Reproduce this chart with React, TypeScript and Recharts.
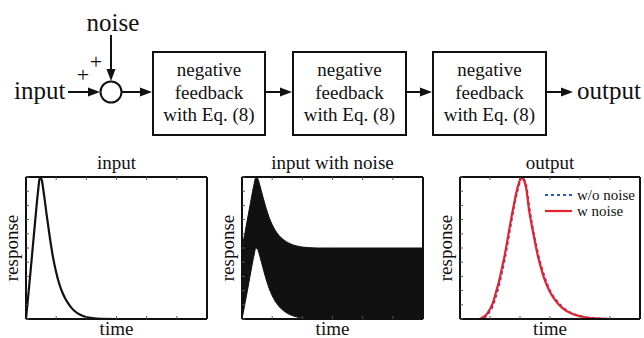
import { ComposedChart, Line, Area, XAxis, YAxis, Legend } from 'recharts';

const FONT = '"Liberation Serif", "DejaVu Serif", serif';

// input pulse and noisy input share one time grid
const timeSteps = [0, 1, 2, 3, 4, 4.6, 5.2, 6, 7, 8, 9, 10, 11, 12, 13, 14, 15, 16, 18, 20, 22, 25, 30, 40, 50, 60];
const inputResponse = [0, 0.22, 0.45, 0.68, 0.9, 1.0, 0.98, 0.87, 0.71, 0.56, 0.43, 0.33, 0.25, 0.19, 0.145, 0.11, 0.08, 0.058, 0.03, 0.014, 0.006, 0.001, 0, 0, 0, 0];
const noiseLower = [0, 0.11, 0.225, 0.34, 0.45, 0.5, 0.49, 0.435, 0.355, 0.28, 0.215, 0.165, 0.125, 0.095, 0.072, 0.055, 0.04, 0.03, 0.015, 0.007, 0.003, 0, 0, 0, 0, 0];
const noiseUpper = [0.5, 0.61, 0.725, 0.84, 0.95, 1.0, 0.99, 0.935, 0.855, 0.78, 0.715, 0.665, 0.625, 0.595, 0.572, 0.555, 0.54, 0.53, 0.515, 0.507, 0.503, 0.5, 0.5, 0.5, 0.5, 0.5];

// output of the cascade
const outputTime = [0, 5, 6.4, 7.5, 8.7, 10, 11, 12, 13, 14, 15, 16, 17, 18, 19, 20, 20.5, 21, 22, 23, 24, 25, 26, 27, 28, 29, 30, 32, 34, 36, 38, 40, 42, 45, 48, 52, 56, 60];
const outputWithoutNoise = [0, 0, 0, 0.005, 0.02, 0.055, 0.095, 0.16, 0.235, 0.33, 0.43, 0.55, 0.67, 0.79, 0.89, 0.97, 1.0, 0.99, 0.95, 0.8, 0.67, 0.56, 0.46, 0.38, 0.31, 0.25, 0.2, 0.135, 0.088, 0.055, 0.035, 0.022, 0.012, 0.005, 0.001, 0, 0, 0];
const outputWithNoise = [0, 0, 0, 0.01, 0.028, 0.07, 0.115, 0.19, 0.265, 0.36, 0.46, 0.58, 0.7, 0.81, 0.91, 0.98, 1.0, 0.99, 0.93, 0.77, 0.65, 0.54, 0.44, 0.36, 0.29, 0.235, 0.19, 0.125, 0.08, 0.05, 0.032, 0.02, 0.01, 0.004, 0.001, 0, 0, 0];

const timeTicks = [0, 10, 20, 30, 40, 50, 60];
const responseTicks = [0, 0.1, 0.2, 0.3, 0.4, 0.5, 0.6, 0.7, 0.8, 0.9, 1];
const panelTitles = ['input', 'input with noise', 'output'];
const blockLines = ['negative', 'feedback', 'with Eq. (8)'];
const legendLabels = ['w/o noise', 'w noise'];

const BLUE = '#2a55c8';
const RED = '#e8202a';
const INK = '#111';

const inputRows = timeSteps.map((t, i) => ({ t, v: inputResponse[i] }));
const noiseRows = timeSteps.map((t, i) => ({ t, band: [noiseLower[i], noiseUpper[i]] }));
const outputRows = outputTime.map((t, i) => ({ t, a: outputWithoutNoise[i], b: outputWithNoise[i] }));

// plot boxes (left, width), shared top/height
const PLOT_TOP = 177;
const PLOT_H = 142;
const panels = [
  { left: 26, width: 181 },
  { left: 242, width: 181 },
  { left: 460, width: 180 },
];

const txt = { fontFamily: FONT, fill: INK };

function Arrow({ x1, y1, x2, y2 }: { x1: number; y1: number; x2: number; y2: number }) {
  const len = Math.hypot(x2 - x1, y2 - y1);
  const ux = (x2 - x1) / len;
  const uy = (y2 - y1) / len;
  const hl = 12, hw = 4.5;
  const bx = x2 - ux * hl, by = y2 - uy * hl;
  const pts = `${x2},${y2} ${bx - uy * hw},${by + ux * hw} ${bx + uy * hw},${by - ux * hw}`;
  return (
    <g>
      <line x1={x1} y1={y1} x2={bx + ux} y2={by + uy} stroke={INK} strokeWidth={2} />
      <polygon points={pts} fill={INK} />
    </g>
  );
}

function Block({ x, w }: { x: number; w: number }) {
  const baselines = [76, 98.5, 121];
  return (
    <g>
      <rect x={x} y={52} width={w} height={83} fill='none' stroke={INK} strokeWidth={2} />
      {blockLines.map((s, i) => (
        <text key={i} x={x + w / 2} y={baselines[i]} textAnchor='middle' fontSize={19} style={txt}>{s}</text>
      ))}
    </g>
  );
}

function Frame() {
  const axisLine = { stroke: INK, strokeWidth: 2 };
  const tickLine = { stroke: '#555', strokeWidth: 1 };
  const common = { mirror: true, tickSize: 3, interval: 0 as const, tickFormatter: () => '', axisLine, tickLine };
  return [
    <XAxis key='xb' xAxisId={0} dataKey='t' type='number' domain={[0, 60]} ticks={timeTicks} orientation='bottom' {...common} />,
    <XAxis key='xt' xAxisId='top' dataKey='t' type='number' domain={[0, 60]} ticks={timeTicks} orientation='top' {...common} />,
    <YAxis key='yl' yAxisId={0} type='number' domain={[0, 1]} ticks={responseTicks} orientation='left' {...common} />,
    <YAxis key='yr' yAxisId='right' type='number' domain={[0, 1]} ticks={responseTicks} orientation='right' {...common} />,
  ];
}

function chartBox(i: number) {
  const p = panels[i];
  return {
    style: { position: 'absolute' as const, left: p.left - 10, top: PLOT_TOP - 10 },
    width: p.width + 20,
    height: PLOT_H + 20,
    margin: { top: 10, right: 10, bottom: 10, left: 10 },
  };
}

function LegendBox() {
  const styles = [
    { stroke: BLUE, dash: '3 3' },
    { stroke: RED, dash: undefined },
  ];
  return (
    <div style={{ fontFamily: FONT, fontSize: 15, color: INK }}>
      {legendLabels.map((label, i) => (
        <div key={label} style={{ display: 'flex', alignItems: 'center', height: 16 }}>
          <svg width={32} height={16}>
            <line x1={0} x2={27} y1={8} y2={8} stroke={styles[i].stroke} strokeWidth={2.2} strokeDasharray={styles[i].dash} />
          </svg>
          <span style={{ lineHeight: '16px', fontFamily: FONT }}>{label}</span>
        </div>
      ))}
    </div>
  );
}

export default function App() {
  const b0 = chartBox(0), b1 = chartBox(1), b2 = chartBox(2);
  return (
    <div style={{ position: 'absolute', left: 0, top: 0, width: 644, height: 338, background: '#fff', overflow: 'hidden', fontFamily: FONT }}>
      <svg width={644} height={338} style={{ position: 'absolute', left: 0, top: 0 }}>
        {/* block diagram */}
        <text x={113} y={30.5} textAnchor='middle' fontSize={25} style={txt}>noise</text>
        <Arrow x1={111} y1={35} x2={111} y2={81} />
        <text x={83} y={82} textAnchor='middle' fontSize={22} style={txt}>+</text>
        <text x={96} y={69} textAnchor='middle' fontSize={22} style={txt}>+</text>
        <text x={14} y={99} fontSize={25} style={txt}>input</text>
        <Arrow x1={68} y1={92} x2={100} y2={92} />
        <circle cx={111} cy={92} r={10.5} fill='none' stroke={INK} strokeWidth={2} />
        <Arrow x1={122} y1={92} x2={152} y2={92} />
        <Block x={153} w={112} />
        <Arrow x1={265} y1={92} x2={292} y2={92} />
        <Block x={293} w={113} />
        <Arrow x1={406} y1={92} x2={432} y2={92} />
        <Block x={433} w={113} />
        <Arrow x1={546} y1={92} x2={573} y2={92} />
        <text x={577} y={99} fontSize={25} style={txt}>output</text>

        {/* panel labels */}
        {panels.map((p, i) => (
          <g key={i}>
            <text x={p.left + p.width / 2} y={169} textAnchor='middle' fontSize={19} style={txt}>{panelTitles[i]}</text>
            <text x={p.left + p.width / 2} y={335} textAnchor='middle' fontSize={19} style={txt}>time</text>
            <text transform={`translate(${p.left - 8},${PLOT_TOP + PLOT_H / 2}) rotate(-90)`} textAnchor='middle' fontSize={19} style={txt}>response</text>
          </g>
        ))}
      </svg>

      <div style={b0.style}>
        <ComposedChart width={b0.width} height={b0.height} margin={b0.margin} data={inputRows}>
          {Frame()}
          <Line dataKey='v' type='monotone' stroke={INK} strokeWidth={2.2} dot={false} isAnimationActive={false} />
        </ComposedChart>
      </div>

      <div style={b1.style}>
        <ComposedChart width={b1.width} height={b1.height} margin={b1.margin} data={noiseRows}>
          {Frame()}
          <Area dataKey='band' type='monotone' stroke={INK} strokeWidth={1} fill={INK} fillOpacity={1} dot={false} isAnimationActive={false} />
        </ComposedChart>
      </div>

      <div style={b2.style}>
        <ComposedChart width={b2.width} height={b2.height} margin={b2.margin} data={outputRows}>
          {Frame()}
          <Line name={legendLabels[0]} dataKey='a' type='monotone' stroke={BLUE} strokeWidth={2} strokeDasharray='3 3' dot={false} isAnimationActive={false} />
          <Line name={legendLabels[1]} dataKey='b' type='monotone' stroke={RED} strokeWidth={2.2} dot={false} isAnimationActive={false} />
          <Legend layout='vertical' align='center' verticalAlign='middle' wrapperStyle={{ left: 95, top: 20, width: 'auto', height: 'auto' }} content={() => <LegendBox />} />
        </ComposedChart>
      </div>
    </div>
  );
}
